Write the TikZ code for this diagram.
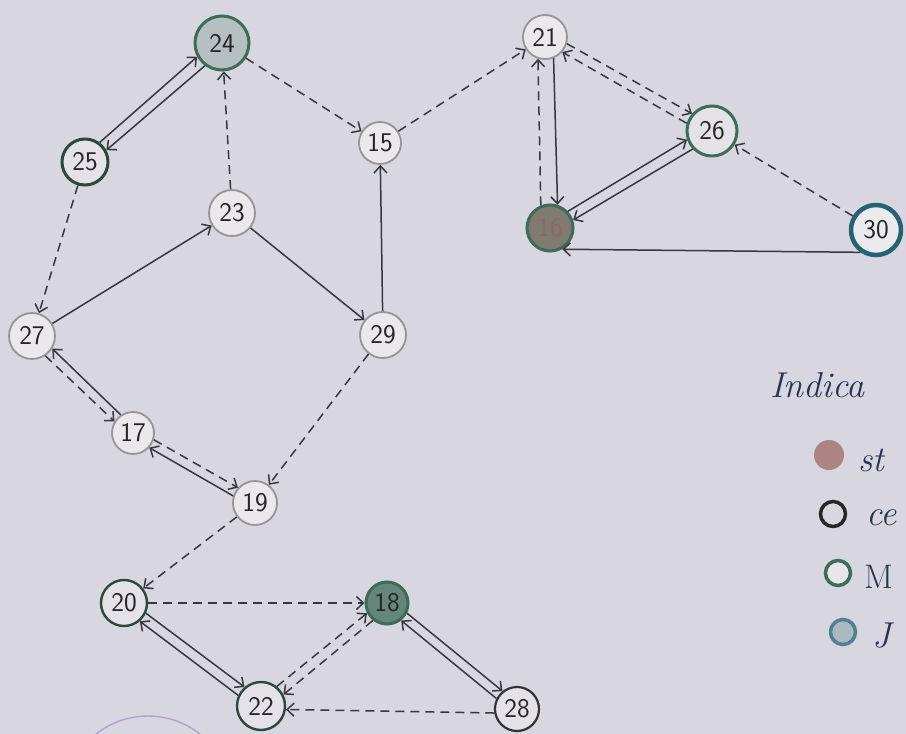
\documentclass[tikz,border=0pt]{standalone}
\usepackage{fontspec}
\usetikzlibrary{arrows.meta}
\definecolor{paper}{RGB}{216,214,222}
\definecolor{pencilgray}{RGB}{150,148,152}
\definecolor{ink}{RGB}{55,55,62}
\definecolor{mgreen}{RGB}{62,108,88}
\definecolor{dkgreen}{RGB}{45,72,60}
\definecolor{jblue}{RGB}{38,98,115}
\definecolor{startred}{RGB}{172,132,130}
\definecolor{penblue}{RGB}{40,52,84}
\definecolor{lilac}{RGB}{178,162,212}
\tikzset{
  vtx/.style={circle,minimum size=42pt,inner sep=0pt,line width=1.8pt,
              text=black!85,font=\sffamily\fontsize{27}{27}\selectfont},
  pencil/.style={vtx,draw=pencilgray,fill=paper!55!white},
  mnode/.style={vtx,draw=mgreen,line width=3pt,fill=paper!70!white},
  dnode/.style={vtx,draw=dkgreen,line width=2.4pt,fill=paper!70!white},
  knode/.style={vtx,draw=black!80,line width=2.2pt,fill=paper!70!white},
  jnode/.style={vtx,draw=jblue,line width=4.5pt,fill=paper!50!white},
  arr/.style={-{Straight Barb[length=7pt,width=13pt]},line width=1.5pt,ink},
  darr/.style={arr,dash pattern=on 9pt off 6pt},
  hand/.style={penblue,font=\itshape\fontsize{36}{38}\selectfont,inner sep=0pt},
  keydot/.style={circle,minimum size=30pt,inner sep=0pt},
}
\begin{document}
\begin{tikzpicture}[x=1pt,y=-1pt]
    \useasboundingbox (0,0) rectangle (906,734);
    \fill[paper] (0,0) rectangle (906,734);
    \draw[lilac,line width=1.4pt] (148,800) circle[radius=84];

    \node[mnode,minimum size=54pt,fill=mgreen!22!paper] (n24) at (222,43) {24};
    \node[mnode,draw=dkgreen,minimum size=46pt] (n25) at (85,162) {25};
    \node[pencil] (n15) at (380,143) {15};
    \node[pencil,minimum size=46pt] (n23) at (232,213) {23};
    \node[pencil,minimum size=46pt] (n27) at (32,336) {27};
    \node[pencil,minimum size=46pt] (n29) at (383,335) {29};
    \node[pencil] (n17) at (133,433) {17};
    \node[pencil,minimum size=44pt] (n19) at (255,503) {19};
    \node[dnode,minimum size=46pt] (n20) at (124,603) {20};
    \node[mnode,minimum size=42pt,fill=mgreen!75!paper] (n18) at (387,603) {18};
    \node[dnode,minimum size=48pt] (n22) at (261,706) {22};
    \node[knode,minimum size=44pt] (n28) at (517,709) {28};
    \node[pencil,minimum size=44pt] (n21) at (545,37) {21};
    \node[mnode,minimum size=50pt] (n26) at (712,131) {26};
    \node[mnode,minimum size=46pt,fill=startred!60!mgreen,text=startred!80!black] (n16) at (550,228) {16};
    \node[jnode,minimum size=50pt] (n30) at (876,230) {30};

    \draw[arr] (n25.53) -- (n24.209);
    \draw[arr] (n24.233) -- (n25.29);
    \draw[darr] (n23) -- (n24);
    \draw[darr] (n24) -- (n15);
    \draw[darr] (n15) -- (n21);
    \draw[darr] (n25) -- (n27);
    \draw[arr] (n27) -- (n23);
    \draw[arr] (n23) -- (n29);
    \draw[arr] (n29) -- (n15);
    \draw[darr] (n29) -- (n19);
    \draw[arr] (n17.124) -- (n27.328);
    \draw[darr] (n27.304) -- (n17.148);
    \draw[darr] (n17.-18) -- (n19.138);
    \draw[arr] (n19.162) -- (n17.-42);
    \draw[darr] (n19) -- (n20);
    \draw[darr] (n20) -- (n18);
    \draw[arr] (n20.-25) -- (n22.131);
    \draw[arr] (n22.155) -- (n20.-49);
    \draw[darr] (n22.51) -- (n18.207);
    \draw[darr] (n18.231) -- (n22.27);
    \draw[arr] (n18.-27) -- (n28.129);
    \draw[arr] (n28.153) -- (n18.-51);
    \draw[darr] (n28.190) -- (n22.-8);
    \draw[darr] (n16.112) -- (n21.252);
    \draw[arr] (n21.292) -- (n16.72);
    \draw[darr] (n21.-17) -- (n26.139);
    \draw[darr] (n26.163) -- (n21.-41);
    \draw[arr] (n16.43) -- (n26.199);
    \draw[arr] (n26.223) -- (n16.19);
    \draw[darr] (n30) -- (n26);
    \draw[arr] (n30.235) -- (n16.300);

    \node[hand,anchor=base west] (key) at (770,397) {Indica};
    \node[keydot,fill=startred] (k1) at (829,455) {};
    \node[keydot,draw=black!85,line width=3.5pt,minimum size=25pt] (k2) at (833,514) {};
    \node[keydot,draw=mgreen,line width=3.5pt,fill=paper!60!white,minimum size=25pt] (k3) at (838,573) {};
    \node[keydot,draw=jblue!80,line width=3.5pt,fill=jblue!25!paper,minimum size=25pt] (k4) at (843,632) {};
    \node[hand,anchor=west] (t1) at (858,460) {st};
    \node[hand,anchor=west] (t2) at (866,518) {ce};
    \node[hand,anchor=west,font=\fontsize{34}{36}\selectfont] (t3) at (864,577) {M};
    \node[hand,anchor=west] (t4) at (872,636) {J};
\end{tikzpicture}
\end{document}
